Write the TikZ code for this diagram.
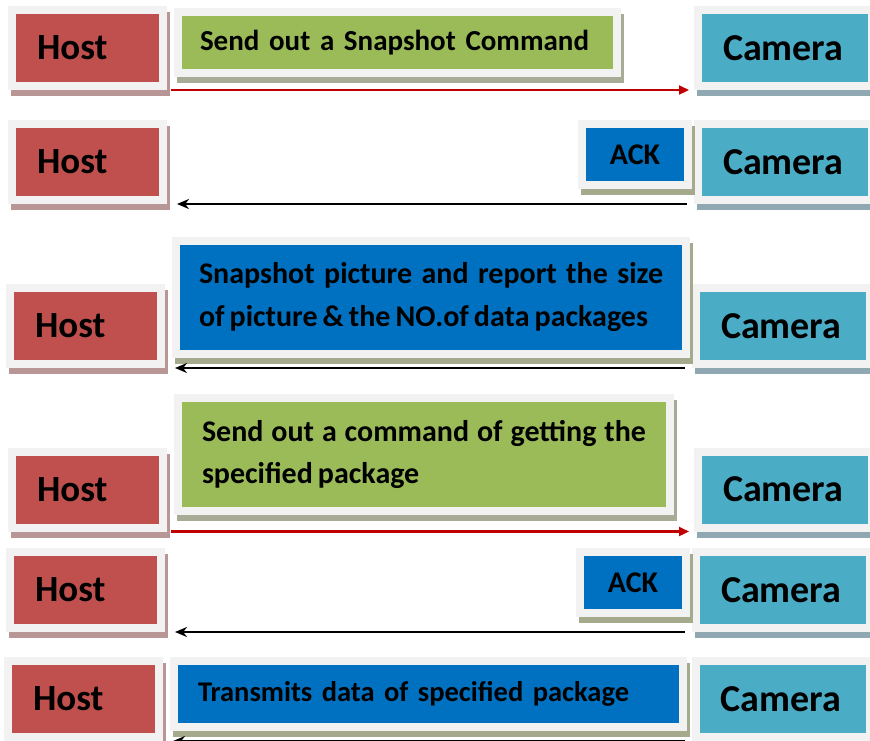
\documentclass[tikz,border=0pt]{standalone}
\usepackage{fontspec}
\setmainfont{Carlito}[WordSpace=0.75]
\usetikzlibrary{arrows.meta}
\definecolor{box_host}{RGB}{192,80,77}
\definecolor{box_cam}{RGB}{75,172,198}
\definecolor{box_cmd}{RGB}{155,187,89}
\definecolor{box_reply}{RGB}{0,112,192}
\definecolor{box_frame}{RGB}{242,242,242}
\definecolor{shadow_host}{RGB}{185,150,150}
\definecolor{shadow_cam}{RGB}{143,168,178}
\definecolor{shadow_cmd}{RGB}{168,172,150}
\definecolor{shadow_reply}{RGB}{165,170,140}
\definecolor{arrow_red}{RGB}{192,0,0}
\tikzset{
    framed/.style={draw=box_frame,line width=8pt,inner sep=0pt,
        preaction={fill=#1,draw=#1,transform canvas={xshift=3pt,yshift=-6pt}}},
    host_box/.style={framed=shadow_host,fill=box_host,minimum width=151pt,minimum height=76pt,
        text width=101pt,align=left,font=\fontsize{37}{40}\selectfont\bfseries},
    cam_box/.style={framed=shadow_cam,fill=box_cam,minimum width=174pt,minimum height=76pt,
        text width=124pt,align=left,font=\fontsize{38}{40}\selectfont\bfseries},
    cmd_box/.style={framed=shadow_cmd,fill=box_cmd,font=\fontsize{30}{42}\selectfont\bfseries},
    reply_box/.style={framed=shadow_reply,fill=box_reply,font=\fontsize{30}{43}\selectfont\bfseries},
    ack_box/.style={framed=shadow_reply,fill=box_reply,minimum width=106pt,minimum height=61pt,
        font=\fontsize{30}{32}\selectfont\bfseries},
    arrow_send/.style={-{Triangle[length=10pt,width=9pt]},arrow_red,line width=2.2pt,
        shorten <=4pt,shorten >=5pt},
    arrow_back/.style={-{Stealth[length=12pt,width=10pt]},black,line width=2.2pt,
        shorten <=7pt,shorten >=10pt},
}
\begin{document}
\begin{tikzpicture}[x=1pt,y=-1pt]
  \useasboundingbox (0,0) rectangle (870,740);
  % row 1: snapshot command
  \node[host_box] (host1) at (87.5,48) {Host};
  \node[cam_box] (cam1) at (785,48) {Camera};
  \node[cmd_box,minimum width=439pt,minimum height=61pt,text width=395pt,align=left,
    font=\fontsize{29}{32}\selectfont\bfseries,yshift=-2pt]
    (snap_cmd) at (397.5,40.5) {Send out a Snapshot Command};
  \draw[arrow_send] (host1.south east) -- (cam1.south west);
  % row 2: ack
  \node[host_box] (host2) at (87.5,162) {Host};
  \node[cam_box] (cam2) at (785,162) {Camera};
  \node[ack_box] (ack1) at (635,154.5) {ACK};
  \draw[arrow_back] (cam2.south west) -- (host2.south east);
  % row 3: size report
  \node[host_box] (host3) at (85.5,326) {Host};
  \node[cam_box] (cam3) at (783,326) {Camera};
  \node[reply_box,minimum width=510pt,minimum height=113pt,text width=464pt,align=justify]
    (size_report) at (431,297.5)
    {Snapshot picture and report the size\linebreak of picture \& the NO.of data packages};
  \draw[arrow_back] (cam3.south west) -- (host3.south east);
  % row 4: get package command
  \node[host_box] (host4) at (87.5,489.5) {Host};
  \node[cam_box] (cam4) at (785,489.5) {Camera};
  \node[cmd_box,minimum width=492pt,minimum height=113pt,text width=444pt,align=justify]
    (get_cmd) at (424,454.5)
    {Send out a command of getting the\linebreak specified package};
  \draw[arrow_send] (host4.south east) -- (cam4.south west);
  % row 5: ack
  \node[host_box] (host5) at (85.5,590) {Host};
  \node[cam_box] (cam5) at (783,590) {Camera};
  \node[ack_box] (ack2) at (633,582.5) {ACK};
  \draw[arrow_back] (cam5.south west) -- (host5.south east);
  % row 6: data transfer
  \node[host_box] (host6) at (83.5,699) {Host};
  \node[cam_box] (cam6) at (782.5,699) {Camera};
  \node[reply_box,minimum width=509pt,minimum height=66pt,text width=461pt,align=left,
    font=\fontsize{28.5}{32}\selectfont\bfseries]
    (data_pkg) at (428.5,694) {Transmits data of specified package};
  \draw[arrow_back] (cam6.south west) -- (host6.south east);
\end{tikzpicture}
\end{document}
